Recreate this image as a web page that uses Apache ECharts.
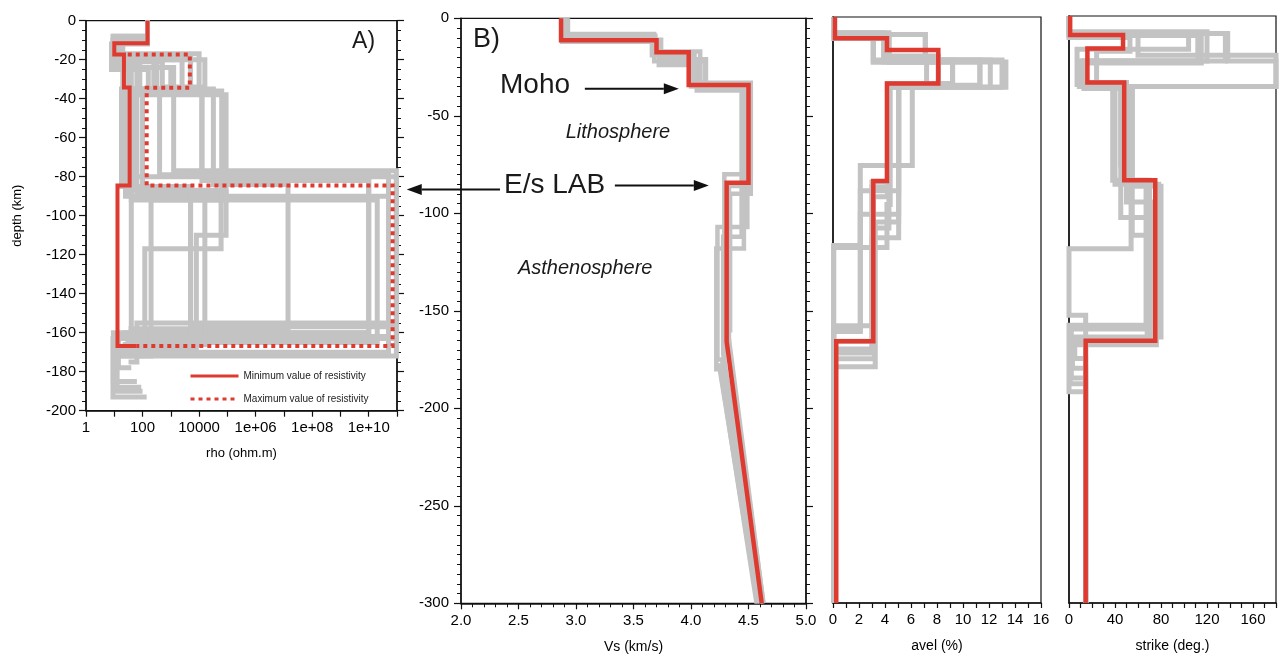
<!DOCTYPE html>
<html><head><meta charset="utf-8">
<script src="https://cdn.jsdelivr.net/npm/echarts@6/dist/echarts.min.js"></script>
<style>html,body{margin:0;padding:0;background:#fff}#c{width:1279px;height:660px}</style>
</head><body><div id="c"></div>
<script>
// ================= DATA =================
// Each profile: layer bottom depths (km) and one value per layer (last = half-space)
// ---- Panel A : resistivity (ohm.m) ----
const rhoMinBounds = [11.5, 17.3, 34.2, 84.5, 166.8];
const rhoMinValues = [150, 10, 22, 35, 13, 60];
const rhoMaxTop = 17.3;
const rhoMaxBounds = [17.3, 34.4, 84.5, 166.8];
const rhoMaxValues = [30, 4700, 140, 7e10, 60];
const rhoModelBounds = [
  [9, 18, 36, 78, 160],
  [10, 20, 37, 80, 163, 193],
  [8, 17, 35, 84, 158],
  [11, 24, 36, 90, 170, 190],
  [9, 22, 38, 92, 172],
  [10, 19, 36, 92, 165],
  [12, 25, 37, 77, 155, 175],
  [9, 17, 36, 88, 110, 168],
  [10, 21, 34, 82, 160, 185],
  [11, 18, 37, 79, 162],
  [9, 20, 35, 85, 157, 172],
  [8, 23, 36, 91, 166],
  [9, 19, 35, 88, 167],
  [10, 24, 37, 86, 162, 178],
  [9, 21, 36, 87, 117, 168, 188]
];
const rhoModelValues = [
  [150, 10, 320, 12600, 1e10, 20],
  [150, 12.6, 16000, 40, 9.5e10, 9, 140],
  [150, 9, 20, 32000, 1.4e7, 32],
  [150, 16, 1000, 25, 5e10, 12.6, 100],
  [150, 10, 63, 90000, 200, 16],
  [150, 11, 5000, 40, 2e10, 25],
  [150, 8, 160, 1260, 9.5e10, 63, 32],
  [150, 12.6, 10000, 63, 90000, 8000, 40],
  [150, 20, 500, 12600, 1e10, 9.3, 63],
  [150, 10, 40, 400, 5e10, 100],
  [150, 14, 2500, 18, 5000, 9.5e10, 12.6],
  [150, 10, 32, 63000, 16000, 20],
  [150, 11, 250, 32, 40, 9.3],
  [150, 9, 1260, 100, 5000, 14, 40],
  [150, 13, 80, 50, 60000, 120, 10, 90]
];
const rhoLegend = ['Minimum value of resistivity', 'Maximum value of resistivity'];

// ---- Panel B : Vs (km/s); last layer is a gradient down to 300 km ----
const vsBestBounds = [11.3, 17.4, 34.2, 84.3, 165.8];
const vsBestValues = [2.87, 3.70, 3.98, 4.50, 4.31, 4.31];
const vsBestDeep = 4.615;
const vsModelBounds = [
  [8, 22, 36, 80, 178],
  [12, 24, 37, 86, 170],
  [10, 19, 35, 118, 180],
  [11, 21, 36, 107, 175],
  [9, 18, 33, 90, 160],
  [12, 17, 36, 112, 172]
];
const vsModelValues = [
  [2.93, 3.68, 4.12, 4.52, 4.29, 4.25],
  [2.88, 3.72, 4.05, 4.47, 4.33, 4.32],
  [2.90, 3.66, 4.00, 4.46, 4.22, 4.25],
  [2.92, 3.74, 4.13, 4.49, 4.23, 4.27],
  [2.89, 3.69, 4.03, 4.52, 4.34, 4.32],
  [2.88, 3.67, 4.08, 4.44, 4.28, 4.28]
];
const vsModelDeep = [4.57, 4.63, 4.58, 4.60, 4.63, 4.62];

// ---- Panel C : anisotropy avel (%) ----
const avelBestBounds = [10.9, 16.9, 34, 84, 166];
const avelBestValues = [0.15, 4.15, 8.1, 4.15, 3.1, 0.25];
const avelModelBounds = [
  [9, 23, 36, 76, 117],
  [8, 22, 36, 89, 161],
  [10, 23, 35, 84.5, 158],
  [9, 22, 36, 105, 179],
  [11, 23, 34, 92, 166],
  [10, 22, 36, 113, 170],
  [9, 23, 36, 96, 118],
  [8, 20, 36, 108, 175],
  [9, 22, 36, 101, 160],
  [10, 23, 35, 87, 172]
];
const avelModelValues = [
  [0.05, 3.1, 7.2, 6.1, 2.1, 0.05],
  [0.05, 4.3, 13.0, 5.05, 2.1, 0.05],
  [0.05, 3.9, 8.1, 4.3, 3.0, 0.05],
  [0.05, 7.1, 11.3, 5.05, 3.25, 0.05],
  [0.05, 4.3, 9.2, 4.2, 3.1, 0.05],
  [0.05, 3.1, 12.1, 5.05, 3.0, 0.05],
  [0.05, 4.3, 13.3, 4.4, 4.15, 0.05],
  [0.05, 3.9, 8.1, 4.3, 3.2, 0.05],
  [0.05, 7.1, 9.2, 5.05, 2.1, 0.05],
  [0.05, 3.1, 11.3, 4.3, 3.0, 0.05]
];

// ---- Panel D : strike (deg.) ----
const strikeBestBounds = [9.7, 16.6, 34, 84, 166];
const strikeBestValues = [1, 47, 16, 48, 75, 14.5];
const strikeModelBounds = [
  [9, 23, 36, 84, 158, 192],
  [10, 24, 36, 87, 164, 180],
  [9, 17, 35, 76, 119, 153],
  [8, 23, 37, 84, 166],
  [10, 20, 36, 86, 160, 185],
  [9, 23, 34, 95, 166, 175],
  [11, 18, 36, 103, 165],
  [9, 23, 36, 112, 168, 188]
];
const strikeModelValues = [
  [0, 138, 180, 38, 67, 0, 14.5],
  [0, 115, 10, 55, 80, 3, 14.5],
  [0, 104, 7, 45, 54, 0, 14.5],
  [0, 120, 13, 53, 70, 14.5],
  [0, 60, 180, 40, 78, 2, 14.5],
  [0, 136, 12, 50, 72, 5, 14.5],
  [0, 53, 24, 45, 68, 14.5],
  [0, 112, 9, 55, 76, 1, 14.5]
];
const maxDepth = 300;

// ================= BUILD =================
const RED = '#de3a30', GRAY = '#c3c3c3', INK = '#111';
const FONT = 'Liberation Sans, Arial, Helvetica, sans-serif';

function stepPath(bounds, vals, top, endDepth, deepVal) {
  const pts = [[vals[0], -top]];
  for (let i = 0; i < bounds.length; i++) {
    pts.push([vals[i], -bounds[i]]);
    pts.push([vals[i + 1], -bounds[i]]);
  }
  if (endDepth != null) pts.push([deepVal != null ? deepVal : vals[vals.length - 1], -endDepth]);
  return pts;
}
// resistivity is plotted on a decade (log10) axis
const logPath = (pts) => pts.map(p => [Math.log10(p[0]), p[1]]);
function line(data, xi, yi, color, width, extra) {
  return Object.assign({
    type: 'line', xAxisIndex: xi, yAxisIndex: yi, data: data, symbol: 'none',
    silent: true, animation: false, clip: true, itemStyle: { color: color },
    lineStyle: { color: color, width: width, join: 'miter', cap: 'butt' }, z: 2
  }, extra || {});
}
const series = [];
rhoModelBounds.forEach((b, i) => series.push(line(logPath(stepPath(b, rhoModelValues[i], 0)), 0, 0, GRAY, 5)));
series.push(line(logPath(stepPath(rhoMinBounds, rhoMinValues, 0)), 0, 0, RED, 4, { name: rhoLegend[0], z: 4 }));
series.push(line(logPath(stepPath(rhoMaxBounds, rhoMaxValues, rhoMaxTop)), 0, 0, RED, 4,
  { name: rhoLegend[1], z: 5, lineStyle: { color: RED, width: 4, type: [4, 4], cap: 'butt', join: 'miter' } }));
vsModelBounds.forEach((b, i) => series.push(line(stepPath(b, vsModelValues[i], 0, maxDepth, vsModelDeep[i]), 1, 2, GRAY, 4.5)));
series.push(line(stepPath(vsBestBounds, vsBestValues, 0, maxDepth, vsBestDeep), 1, 2, RED, 4.5, { z: 4 }));
avelModelBounds.forEach((b, i) => series.push(line(stepPath(b, avelModelValues[i], 0, maxDepth), 2, 4, GRAY, 5)));
series.push(line(stepPath(avelBestBounds, avelBestValues, 0, maxDepth), 2, 4, RED, 4.5, { z: 4 }));
strikeModelBounds.forEach((b, i) => series.push(line(stepPath(b, strikeModelValues[i], 0, maxDepth), 3, 5, GRAY, 5)));
series.push(line(stepPath(strikeBestBounds, strikeBestValues, 0, maxDepth), 3, 5, RED, 4.5, { z: 4 }));

const lbl = { color: '#000', fontFamily: FONT, fontSize: 15 };
const axLine = { show: true, onZero: false, lineStyle: { color: INK, width: 1.5 } };
const tick = (len) => ({ show: true, length: len, lineStyle: { color: INK, width: 1.2 } });
const minor = (n) => ({ show: true, splitNumber: n, length: 4, lineStyle: { color: INK, width: 1 } });
const nameStyle = (s) => ({ color: '#000', fontFamily: FONT, fontSize: s });

const grids = [
  { left: 86, top: 20.7, width: 311, height: 390 },
  { left: 461, top: 18.3, width: 345, height: 585 },
  { left: 833, top: 17, width: 208, height: 586 },
  { left: 1069, top: 16, width: 208, height: 587 }
].map(g => Object.assign(g, { show: true, borderColor: INK, borderWidth: 1.2, backgroundColor: 'transparent' }));

function decadeLabel(e) {
  e = Math.round(e);
  if (e % 2) return '';
  return e <= 4 ? String(Math.pow(10, e)) : '1e+' + String(e).padStart(2, '0');
}

const option = {
  backgroundColor: '#fff',
  animation: false,
  grid: grids,
  legend: {
    data: rhoLegend.map(n => ({ name: n, itemStyle: { opacity: 0 } })),
    orient: 'vertical', left: 184, top: 366,
    itemWidth: 48, itemHeight: 12, itemGap: 13, selectedMode: false,
    lineStyle: { width: 3 },
    textStyle: { fontFamily: FONT, fontSize: 10, color: '#222' }
  },
  xAxis: [
    { type: 'value', gridIndex: 0, min: 0, max: 11, interval: 1,
      name: 'rho (ohm.m)', nameLocation: 'middle', nameGap: 36, nameTextStyle: nameStyle(13),
      axisLine: axLine, axisTick: tick(6), splitLine: { show: false },
      axisLabel: Object.assign({ interval: 0, margin: 10, formatter: decadeLabel }, lbl) },
    { type: 'value', gridIndex: 1, min: 2, max: 5, interval: 0.5,
      name: 'Vs (km/s)', nameLocation: 'middle', nameGap: 37, nameTextStyle: nameStyle(14),
      axisLine: axLine, axisTick: tick(6), minorTick: minor(5), splitLine: { show: false },
      axisLabel: Object.assign({ margin: 10, formatter: v => v.toFixed(1) }, lbl) },
    { type: 'value', gridIndex: 2, min: 0, max: 16, interval: 1,
      name: 'avel (%)', nameLocation: 'middle', nameGap: 36, nameTextStyle: nameStyle(14),
      axisLine: axLine, axisTick: tick(5), splitLine: { show: false },
      axisLabel: Object.assign({ interval: 0, margin: 9, formatter: v => (v % 2 ? '' : String(v)) }, lbl) },
    { type: 'value', gridIndex: 3, min: 0, max: 180, interval: 10,
      name: 'strike (deg.)', nameLocation: 'middle', nameGap: 36, nameTextStyle: nameStyle(14),
      axisLine: axLine, axisTick: tick(5), splitLine: { show: false },
      axisLabel: Object.assign({ interval: 0, margin: 9, formatter: v => (v % 40 === 0 && v < 180 ? String(v) : '') }, lbl) }
  ],
  yAxis: [
    { type: 'value', gridIndex: 0, min: -200, max: 0, interval: 20,
      name: 'depth (km)', nameLocation: 'middle', nameGap: 62, nameTextStyle: nameStyle(13),
      axisLine: axLine, axisTick: tick(7), minorTick: minor(4), splitLine: { show: false },
      axisLabel: Object.assign({ margin: 10 }, lbl) },
    { type: 'value', gridIndex: 0, min: -200, max: 0, interval: 20, position: 'right',
      axisLine: axLine, axisTick: tick(7), minorTick: minor(4), splitLine: { show: false },
      axisLabel: { show: false } },
    { type: 'value', gridIndex: 1, min: -300, max: 0, interval: 50,
      axisLine: axLine, axisTick: tick(7), minorTick: minor(10), splitLine: { show: false },
      axisLabel: Object.assign({ margin: 12 }, lbl) },
    { type: 'value', gridIndex: 1, min: -300, max: 0, interval: 50, position: 'right',
      axisLine: axLine, axisTick: tick(7), minorTick: minor(10), splitLine: { show: false },
      axisLabel: { show: false } },
    { type: 'value', gridIndex: 2, min: -300, max: 0, interval: 50,
      axisLine: axLine, axisTick: { show: false }, splitLine: { show: false }, axisLabel: { show: false } },
    { type: 'value', gridIndex: 3, min: -300, max: 0, interval: 50,
      axisLine: axLine, axisTick: { show: false }, splitLine: { show: false }, axisLabel: { show: false } }
  ],
  series: series
};

const chart = echarts.init(document.getElementById('c'), null, { renderer: 'canvas' });
chart.setOption(option);

// ---- annotations, anchored in data coordinates ----
const pB = (v, d) => chart.convertToPixel({ xAxisIndex: 1, yAxisIndex: 2 }, [v, d]);
const pA = (v, d) => chart.convertToPixel({ xAxisIndex: 0, yAxisIndex: 0 }, [Math.log10(v), d]);
function txt(p, s, size, italic) {
  return { type: 'text', x: p[0], y: p[1], z: 20, silent: true,
    style: { text: s, fill: '#1a1a1a', font: (italic ? 'italic ' : '') + size + 'px ' + FONT, verticalAlign: 'middle', align: 'left' } };
}
function arrow(p1, p2) {
  const dir = Math.sign(p2[0] - p1[0]), L = 15, H = 5.5;
  return [
    { type: 'line', z: 20, silent: true, shape: { x1: p1[0], y1: p1[1], x2: p2[0] - dir * L, y2: p2[1] }, style: { stroke: '#111', lineWidth: 2 } },
    { type: 'polygon', z: 20, silent: true, shape: { points: [[p2[0], p2[1]], [p2[0] - dir * L, p2[1] - H], [p2[0] - dir * L, p2[1] + H]] }, style: { fill: '#111' } }
  ];
}
const gfx = [
  txt(pA(2.57e9, -10.9), 'A)', 23),
  txt(pB(2.104, -11.1), 'B)', 27),
  txt(pB(2.339, -34.2), 'Moho', 28),
  txt(pB(2.91, -58.7), 'Lithosphere', 20, true),
  txt(pB(2.374, -85.5), 'E/s LAB', 28),
  txt(pB(2.495, -128.1), 'Asthenosphere', 20, true)
].concat(
  arrow(pB(3.077, -36.1), pB(3.894, -36.1)),
  arrow(pB(3.338, -85.8), pB(4.155, -85.8)),
  arrow(pB(2.339, -87.8), pB(1.528, -87.8))
);
chart.setOption({ graphic: gfx });
</script>
</body></html>
